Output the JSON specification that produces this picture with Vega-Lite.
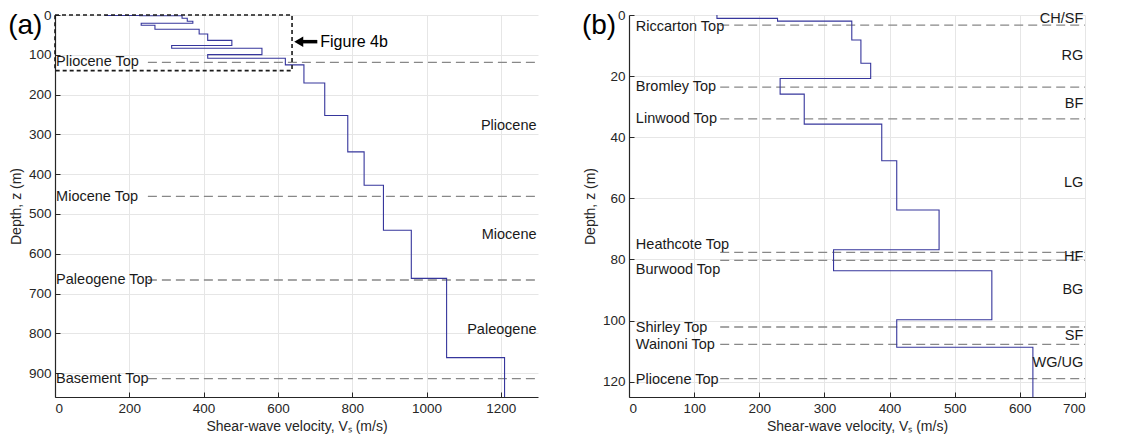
{
  "$schema": "https://vega.github.io/schema/vega-lite/v6.json",
  "padding": {"top": 8, "left": 8, "right": 6, "bottom": 3},
  "spacing": 42,
  "datasets": {
    "profile": [
      {"i": 0, "vs": 135, "z": 0}, {"i": 1, "vs": 135, "z": 1.1},
      {"i": 2, "vs": 228, "z": 1.1}, {"i": 3, "vs": 228, "z": 2.0},
      {"i": 4, "vs": 342, "z": 2.0}, {"i": 5, "vs": 342, "z": 8.2},
      {"i": 6, "vs": 356, "z": 8.2}, {"i": 7, "vs": 356, "z": 15.8},
      {"i": 8, "vs": 371, "z": 15.8}, {"i": 9, "vs": 371, "z": 20.8},
      {"i": 10, "vs": 232, "z": 20.8}, {"i": 11, "vs": 232, "z": 25.9},
      {"i": 12, "vs": 269, "z": 25.9}, {"i": 13, "vs": 269, "z": 35.7},
      {"i": 14, "vs": 388, "z": 35.7}, {"i": 15, "vs": 388, "z": 47.7},
      {"i": 16, "vs": 411, "z": 47.7}, {"i": 17, "vs": 411, "z": 63.8},
      {"i": 18, "vs": 476, "z": 63.8}, {"i": 19, "vs": 476, "z": 76.8},
      {"i": 20, "vs": 314, "z": 76.8}, {"i": 21, "vs": 314, "z": 83.7},
      {"i": 22, "vs": 557, "z": 83.7}, {"i": 23, "vs": 557, "z": 99.7},
      {"i": 24, "vs": 411, "z": 99.7}, {"i": 25, "vs": 411, "z": 108.7},
      {"i": 26, "vs": 620, "z": 108.7}, {"i": 27, "vs": 620, "z": 125.4},
      {"i": 28, "vs": 670, "z": 125.4}, {"i": 29, "vs": 670, "z": 171},
      {"i": 30, "vs": 726, "z": 171}, {"i": 31, "vs": 726, "z": 252.6},
      {"i": 32, "vs": 788, "z": 252.6}, {"i": 33, "vs": 788, "z": 344},
      {"i": 34, "vs": 832, "z": 344}, {"i": 35, "vs": 832, "z": 428},
      {"i": 36, "vs": 884, "z": 428}, {"i": 37, "vs": 884, "z": 541},
      {"i": 38, "vs": 959, "z": 541}, {"i": 39, "vs": 959, "z": 662},
      {"i": 40, "vs": 1054, "z": 662}, {"i": 41, "vs": 1054, "z": 861},
      {"i": 42, "vs": 1210, "z": 861}, {"i": 43, "vs": 1210, "z": 960}
    ],
    "horA": [
      {"name": "Pliocene Top", "z": 119, "label_z": 119},
      {"name": "Miocene Top", "z": 456, "label_z": 458},
      {"name": "Paleogene Top", "z": 666, "label_z": 667},
      {"name": "Basement Top", "z": 914, "label_z": 915}
    ],
    "unitA": [
      {"name": "Pliocene", "z": 278},
      {"name": "Miocene", "z": 552},
      {"name": "Paleogene", "z": 792}
    ],
    "horB": [
      {"name": "Riccarton Top", "z": 3.3, "label_z": 3.8},
      {"name": "Bromley Top", "z": 23.6, "label_z": 23.6},
      {"name": "Linwood Top", "z": 34.0, "label_z": 34.0},
      {"name": "Heathcote Top", "z": 77.7, "label_z": 75.2},
      {"name": "Burwood Top", "z": 80.3, "label_z": 83.5},
      {"name": "Shirley Top", "z": 102.1, "label_z": 102.4},
      {"name": "Wainoni Top", "z": 107.8, "label_z": 108.0},
      {"name": "Pliocene Top", "z": 119.0, "label_z": 119.3}
    ],
    "unitB": [
      {"name": "CH/SF", "z": 1.3},
      {"name": "RG", "z": 13.4},
      {"name": "BF", "z": 29.2},
      {"name": "LG", "z": 55},
      {"name": "HF", "z": 79.2},
      {"name": "BG", "z": 90},
      {"name": "SF", "z": 105.1},
      {"name": "WG/UG", "z": 113.8}
    ]
  },
  "hconcat": [
    {
      "width": 483,
      "height": 382,
      "layer": [
        {
          "data": {"name": "horA"},
          "mark": {"type": "rule", "color": "#888888", "strokeWidth": 1.3, "strokeDash": [9, 5]},
          "encoding": {
            "x": {"datum": 250, "type": "quantitative", "scale": {"domain": [0, 1300], "nice": false, "zero": false},
              "axis": {"values": [0, 200, 400, 600, 800, 1000, 1200], "format": "d", "title": "Shear-wave velocity, Vₛ (m/s)", "grid": true}},
            "x2": {"datum": 1300},
            "y": {"field": "z", "type": "quantitative", "scale": {"domain": [0, 960], "reverse": true, "nice": false, "zero": false},
              "axis": {"values": [0, 100, 200, 300, 400, 500, 600, 700, 800, 900], "format": "d", "title": "Depth, z (m)", "grid": true}}
          }
        },
        {
          "data": {"name": "profile"},
          "mark": {"type": "line", "color": "#36369c", "strokeWidth": 1.1, "clip": true},
          "encoding": {
            "x": {"field": "vs", "type": "quantitative"},
            "y": {"field": "z", "type": "quantitative"},
            "order": {"field": "i", "type": "quantitative"}
          }
        },
        {
          "data": {"name": "horA"},
          "mark": {"type": "text", "align": "left", "baseline": "middle", "fontSize": 14.5, "color": "#1a1a1a"},
          "encoding": {
            "x": {"datum": 3},
            "y": {"field": "label_z", "type": "quantitative"},
            "text": {"field": "name"}
          }
        },
        {
          "data": {"name": "unitA"},
          "mark": {"type": "text", "align": "right", "baseline": "middle", "fontSize": 14.5, "color": "#1a1a1a"},
          "encoding": {
            "x": {"datum": 1296},
            "y": {"field": "z", "type": "quantitative"},
            "text": {"field": "name"}
          }
        },
        {
          "data": {"values": [{"box": "Figure 4b"}]},
          "layer": [
            {
              "mark": {"type": "rect", "filled": false, "stroke": "#1a1a1a", "strokeWidth": 1.6, "strokeDash": [4, 3]},
              "encoding": {"x": {"datum": 0}, "x2": {"datum": 638}, "y": {"datum": 0}, "y2": {"datum": 139.7}}
            },
            {
              "mark": {"type": "rule", "color": "#000000", "strokeWidth": 3.5},
              "encoding": {"x": {"datum": 655}, "x2": {"datum": 706}, "y": {"datum": 67}}
            },
            {
              "mark": {"type": "point", "shape": "triangle-left", "filled": true, "color": "#000000", "size": 110, "opacity": 1},
              "encoding": {"x": {"datum": 656}, "y": {"datum": 67}}
            },
            {
              "mark": {"type": "text", "align": "left", "baseline": "middle", "fontSize": 16, "color": "#000000"},
              "encoding": {"x": {"datum": 714}, "y": {"datum": 67}, "text": {"field": "box"}}
            },
            {
              "mark": {"type": "text", "align": "center", "baseline": "middle", "fontSize": 28, "color": "#000000"},
              "encoding": {"x": {"datum": -80}, "y": {"datum": 27}, "text": {"value": "(a)"}}
            }
          ]
        }
      ]
    },
    {
      "width": 456,
      "height": 382,
      "layer": [
        {
          "data": {"name": "horB"},
          "mark": {"type": "rule", "color": "#888888", "strokeWidth": 1.3, "strokeDash": [9, 5]},
          "encoding": {
            "x": {"datum": 140, "type": "quantitative", "scale": {"domain": [0, 700], "nice": false, "zero": false},
              "axis": {"values": [0, 100, 200, 300, 400, 500, 600, 700], "format": "d", "title": "Shear-wave velocity, Vₛ (m/s)", "grid": true}},
            "x2": {"datum": 700},
            "y": {"field": "z", "type": "quantitative", "scale": {"domain": [0, 125], "reverse": true, "nice": false, "zero": false},
              "axis": {"values": [0, 20, 40, 60, 80, 100, 120], "format": "d", "title": "Depth, z (m)", "grid": true}}
          }
        },
        {
          "data": {"name": "profile"},
          "mark": {"type": "line", "color": "#36369c", "strokeWidth": 1.1, "clip": true},
          "encoding": {
            "x": {"field": "vs", "type": "quantitative"},
            "y": {"field": "z", "type": "quantitative"},
            "order": {"field": "i", "type": "quantitative"}
          }
        },
        {
          "data": {"name": "horB"},
          "mark": {"type": "text", "align": "left", "baseline": "middle", "fontSize": 14.5, "color": "#1a1a1a"},
          "encoding": {
            "x": {"datum": 10.5},
            "y": {"field": "label_z", "type": "quantitative"},
            "text": {"field": "name"}
          }
        },
        {
          "data": {"name": "unitB"},
          "mark": {"type": "text", "align": "right", "baseline": "middle", "fontSize": 14.5, "color": "#1a1a1a"},
          "encoding": {
            "x": {"datum": 697.5},
            "y": {"field": "z", "type": "quantitative"},
            "text": {"field": "name"}
          }
        },
        {
          "data": {"values": [{"p": "(b)"}]},
          "mark": {"type": "text", "align": "center", "baseline": "middle", "fontSize": 28, "color": "#000000"},
          "encoding": {"x": {"datum": -46}, "y": {"datum": 3.6}, "text": {"field": "p"}}
        }
      ]
    }
  ],
  "config": {
    "font": "Liberation Sans",
    "view": {"stroke": null},
    "axis": {
      "domainColor": "#262626",
      "domainWidth": 1.2,
      "tickColor": "#262626",
      "tickSize": -5,
      "labelPadding": 9,
      "labelColor": "#262626",
      "labelFontSize": 13.5,
      "titleColor": "#262626",
      "titleFontSize": 14,
      "titleFontWeight": "normal",
      "gridColor": "#e6e6e6",
      "gridWidth": 1
    },
    "axisY": {"titlePadding": 5},
    "axisX": {"titlePadding": 5}
  }
}
